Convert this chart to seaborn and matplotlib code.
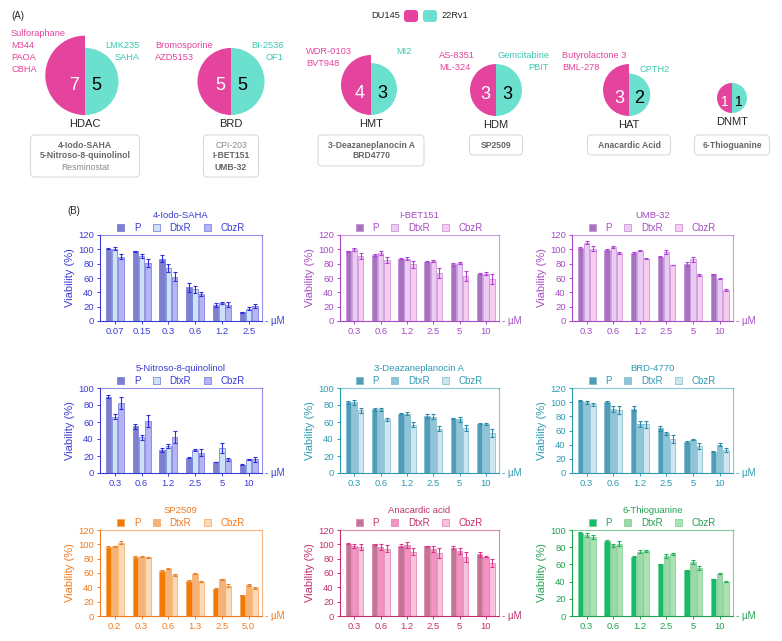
"""
Epigenetic drug screen overview (A) and viability bar charts (B).
"""

import matplotlib.pyplot as plt
import pandas as pd
import seaborn as sns
from matplotlib.patches import FancyBboxPatch, Patch, Wedge

# ----------------------------------------------------------
# Panel A data
# ----------------------------------------------------------

FAMILIES = ["HDAC", "BRD", "HMT", "HDM", "HAT", "DNMT"]

DU145_COUNTS = [7, 5, 4, 3, 3, 1]
RV1_COUNTS = [5, 5, 3, 3, 2, 1]

DU145_ONLY = [
    ["Sulforaphane", "M344", "PAOA", "CBHA"],
    ["Bromosporine", "AZD5153"],
    ["WDR-0103", "BVT948"],
    ["AS-8351", "ML-324"],
    ["Butyrolactone 3", "BML-278"],
    [],
]

RV1_ONLY = [
    ["LMK235", "SAHA"],
    ["BI-2536", "OF1"],
    ["MI2"],
    ["Gemcitabine", "PBIT"],
    ["CPTH2"],
    [],
]

SHARED = [
    ["4-Iodo-SAHA", "5-Nitroso-8-quinolinol", "Resminostat"],
    ["CPI-203", "I-BET151", "UMB-32"],
    ["3-Deazaneplanocin A", "BRD4770"],
    ["SP2509"],
    ["Anacardic Acid"],
    ["6-Thioguanine"],
]

NOT_TESTED = {"Resminostat", "CPI-203"}

# ----------------------------------------------------------
# Panel B data
# ----------------------------------------------------------

LINES = ["P", "DtxR", "CbzR"]

DOSES = ["0.3", "0.6", "1.2", "2.5", "5", "10"]
IODO_DOSES = ["0.07", "0.15", "0.3", "0.6", "1.2", "2.5"]
SP2509_DOSES = ["0.2", "0.3", "0.6", "1.3", "2.5", "5.0"]

IODO_MEAN = {"P": [101, 97, 87, 47, 22, 12],
             "DtxR": [101, 91, 74, 44, 25, 17],
             "CbzR": [90, 81, 62, 38, 23, 21]}
IODO_ERR = {"P": [1, 1, 5, 6, 3, 1],
            "DtxR": [2, 3, 5, 5, 1, 2],
            "CbzR": [3, 5, 6, 3, 3, 3]}

IBET_MEAN = {"P": [97, 92, 87, 83, 79, 66],
             "DtxR": [100, 95, 87, 84, 81, 66],
             "CbzR": [91, 85, 79, 67, 63, 58]}
IBET_ERR = {"P": [1, 1, 1, 1, 2, 1],
            "DtxR": [2, 3, 2, 1, 1, 2],
            "CbzR": [4, 4, 5, 7, 7, 7]}

UMB_MEAN = {"P": [102, 99, 95, 90, 80, 65],
            "DtxR": [109, 103, 98, 96, 86, 59],
            "CbzR": [101, 95, 87, 78, 64, 43]}
UMB_ERR = {"P": [1, 1, 1, 1, 3, 1],
           "DtxR": [2, 1, 1, 3, 3, 1],
           "CbzR": [3, 1, 1, 0.5, 1, 1]}

NITROSO_MEAN = {"P": [90, 55, 27, 18, 13, 10],
                "DtxR": [66, 42, 32, 27, 29, 16],
                "CbzR": [82, 61, 42, 24, 16, 16]}
NITROSO_ERR = {"P": [2, 3, 2, 0.5, 0.5, 0.5],
               "DtxR": [3, 3, 2, 1, 6, 1],
               "CbzR": [7, 7, 7, 4, 2, 3]}

DZNEP_MEAN = {"P": [83, 75, 70, 67, 64, 58],
              "DtxR": [83, 75, 70, 66, 63, 58],
              "CbzR": [74, 63, 57, 52, 53, 47]}
DZNEP_ERR = {"P": [2, 2, 1, 2, 1, 0.5],
             "DtxR": [3, 2, 2, 3, 3, 1],
             "CbzR": [3, 2, 3, 3, 4, 5]}

BRD_MEAN = {"P": [102, 100, 91, 63, 44, 30],
            "DtxR": [100, 90, 69, 56, 47, 40],
            "CbzR": [97, 89, 69, 48, 38, 32]}
BRD_ERR = {"P": [1, 1, 4, 3, 1, 1],
           "DtxR": [2, 4, 4, 2, 1, 2],
           "CbzR": [2, 5, 5, 5, 4, 3]}

SP_MEAN = {"P": [96, 82, 63, 49, 38, 29],
           "DtxR": [97, 83, 66, 59, 51, 43],
           "CbzR": [102, 82, 57, 48, 42, 39]}
SP_ERR = {"P": [1, 2, 1, 1, 1, 1],
          "DtxR": [1, 1, 1, 1, 1, 1],
          "CbzR": [2, 1, 1, 1, 2, 2]}

ANA_MEAN = {"P": [101, 100, 98, 97, 95, 86],
            "DtxR": [98, 96, 99, 94, 91, 83],
            "CbzR": [96, 94, 90, 88, 82, 74]}
ANA_ERR = {"P": [1, 1, 2, 1, 2, 3],
           "DtxR": [3, 4, 4, 4, 4, 1],
           "CbzR": [4, 5, 5, 7, 7, 5]}

TG_MEAN = {"P": [97, 87, 69, 60, 53, 43],
           "DtxR": [94, 82, 75, 70, 63, 49],
           "CbzR": [92, 84, 76, 72, 56, 40]}
TG_ERR = {"P": [1, 1, 0.5, 0.5, 0.5, 0.5],
          "DtxR": [2, 2, 2, 2, 2, 0.5],
          "CbzR": [2, 3, 1, 1, 2, 1]}

# ----------------------------------------------------------
# Styles
# ----------------------------------------------------------

PINK = "#E4449E"
TEAL = "#6BE0CF"

THEMES = {
    "blue": {"text": "#3B3BD6", "bars": ["#7D80CF", "#CCE3F7", "#B4B4F6"],
             "err": "#2E2EE0", "edge": "#6F73D8"},
    "purple": {"text": "#A64BC4", "bars": ["#A673BF", "#EBCBF3", "#F7CCEE"],
               "err": "#B640DC", "edge": "#C08AD6"},
    "teal": {"text": "#2E9BB3", "bars": ["#4F9DB8", "#8FC5D8", "#CDE6EF"],
             "err": "#2A8CA8", "edge": "#7DB8CC"},
    "orange": {"text": "#F27A1E", "bars": ["#F27A00", "#F7B277", "#FBDAB5"],
               "err": "#E8832E", "edge": "#F5A55A"},
    "rose": {"text": "#C2306E", "bars": ["#C27594", "#F392C3", "#F8C3DE"],
             "err": "#E0358C", "edge": "#E07AAA"},
    "green": {"text": "#22A251", "bars": ["#12BE6E", "#9FD8A8", "#A9E2B3"],
              "err": "#1DB35A", "edge": "#7ACB8E"},
}

# pixel layout of panel A
PIE_X = [85, 231, 371, 496, 629, 732]
PIE_BOTTOM = [115, 115, 115, 116, 116, 113]
PINK_XY = [(11, 33), (155, 46), (306, 52), (439, 55), (562, 55), None]
TEAL_XY = [(140, 46), (284, 46), (412, 52), (549, 55), (670, 69), None]
BOX_W = [109, 55, 106, 53, 83, 75]

# pixel boxes of panel B
COLS = [(100, 262), (340, 499), (572, 733)]
ROWS = [(235, 321), (388, 473), (530, 616)]

W, H = 782, 641


def px_axes(fig, x0, y0, x1, y1):
    return fig.add_axes([x0 / W, 1 - y1 / H, (x1 - x0) / W, (y1 - y0) / H])


# ----------------------------------------------------------
# Panel A
# ----------------------------------------------------------

def panel_a(fig):

    ax = px_axes(fig, 0, 0, W, 200)
    ax.set_xlim(0, W)
    ax.set_ylim(200, 0)
    ax.axis("off")

    ax.text(11, 16, "(A)", fontsize=7, va="center")

    # legend
    ax.text(400, 16, "DU145", fontsize=6.7, ha="right", va="center")
    for x0, c in [(404, PINK), (423, TEAL)]:
        ax.add_patch(FancyBboxPatch(
            (x0, 10), 14, 12,
            boxstyle="round,pad=0,rounding_size=3",
            facecolor=c, edgecolor="none",
        ))
    ax.text(442, 16, "22Rv1", fontsize=6.7, ha="left", va="center")

    for i, fam in enumerate(FAMILIES):

        cx = PIE_X[i]
        bottom = PIE_BOTTOM[i]
        r_du = 15 * DU145_COUNTS[i] ** 0.5
        r_rv = 15 * RV1_COUNTS[i] ** 0.5

        ax.add_patch(Wedge((cx, bottom - r_du), r_du, 90, 270,
                           facecolor=PINK, edgecolor="none"))
        ax.add_patch(Wedge((cx, bottom - r_rv), r_rv, -90, 90,
                           facecolor=TEAL, edgecolor="none"))

        r_min = min(r_du, r_rv)
        ny = bottom - r_min + 4
        dx = min(11, 0.47 * r_min)
        fs = 13 if r_min > 20 else 10
        ax.text(cx - dx, ny, str(DU145_COUNTS[i]), color="white",
                fontsize=fs, ha="center", va="center")
        ax.text(cx + dx, ny, str(RV1_COUNTS[i]), color="black",
                fontsize=fs, ha="center", va="center")

        ax.text(cx, bottom + 9, fam, fontsize=8, ha="center", va="center")

        if PINK_XY[i]:
            x0, y0 = PINK_XY[i]
            for k, name in enumerate(DU145_ONLY[i]):
                ax.text(x0, y0 + 12 * k, name, color=PINK, fontsize=6.7,
                        ha="left", va="center")
            x0, y0 = TEAL_XY[i]
            for k, name in enumerate(RV1_ONLY[i]):
                ax.text(x0, y0 + 12 * k, name, color="#3CC9B4",
                        fontsize=6.7, ha="right", va="center")

        # shared drugs box
        n = len(SHARED[i])
        bh = 9 + 11 * n
        bw = BOX_W[i]
        ax.add_patch(FancyBboxPatch(
            (cx - bw / 2, 135), bw, bh,
            boxstyle="round,pad=0,rounding_size=4",
            facecolor="white", edgecolor="#DADADA", linewidth=0.8,
        ))
        for k, name in enumerate(SHARED[i]):
            tested = name not in NOT_TESTED
            ax.text(cx, 135 + 10 + 11 * k, name,
                    fontsize=6.2,
                    color="#666666" if tested else "#8A8A8A",
                    fontweight="bold" if tested else "normal",
                    ha="center", va="center")


# ----------------------------------------------------------
# Panel B
# ----------------------------------------------------------

def bar_panel(ax, title, doses, means, errs, theme, ymax):

    t = THEMES[theme]

    rows = []
    for line in LINES:
        for d, m in zip(doses, means[line]):
            rows.append({"dose": d, "line": line, "viability": m})
    df = pd.DataFrame(rows)

    sns.barplot(
        data=df,
        x="dose",
        y="viability",
        hue="line",
        order=doses,
        hue_order=LINES,
        palette=dict(zip(LINES, t["bars"])),
        errorbar=None,
        width=0.7,
        gap=0.12,
        saturation=1,
        linewidth=0.5,
        edgecolor=t["edge"],
        legend=False,
        ax=ax,
    )

    for container, line in zip(ax.containers, LINES):
        xs = [b.get_x() + b.get_width() / 2 for b in container]
        ys = [b.get_height() for b in container]
        ax.errorbar(xs, ys, yerr=errs[line], fmt="none",
                    ecolor=t["err"], elinewidth=0.8,
                    capsize=1.6, capthick=0.8)

    ax.set_xlim(-0.55, 5.5)
    ax.set_ylim(0, ymax)
    ax.set_yticks(range(0, ymax + 1, 20))

    for side in ["left", "right", "top", "bottom"]:
        ax.spines[side].set_visible(True)
        ax.spines[side].set_color(t["text"])
        ax.spines[side].set_linewidth(0.8)
    ax.spines["right"].set_alpha(0.55)
    ax.spines["top"].set_alpha(0.55)

    ax.tick_params(axis="both", colors=t["text"], labelsize=6.8,
                   length=2.5, width=0.7, pad=2, direction="out")
    ax.tick_params(axis="both", which="both", left=True, bottom=True)

    ax.set_xlabel("")
    ax.set_ylabel("Viability (%)", color=t["text"], fontsize=8,
                  labelpad=2)

    ax.set_title(title, color=t["text"], fontsize=6.8, pad=12.5)

    handles = [Patch(facecolor=c, edgecolor=t["edge"], linewidth=0.5)
               for c in t["bars"]]
    ax.legend(
        handles,
        LINES,
        loc="lower center",
        bbox_to_anchor=(0.5, 1.0),
        ncol=3,
        frameon=False,
        fontsize=7,
        handlelength=0.7,
        handleheight=0.7,
        handletextpad=1.0,
        columnspacing=1.3,
        borderaxespad=0.1,
        borderpad=0.1,
        labelcolor=t["text"],
    )

    ax.text(1.02, 0, "- µM", transform=ax.get_yaxis_transform(),
            color=t["text"], fontsize=7, ha="left", va="center")


def panel_b(fig):

    fig.text(67 / W, 1 - 211 / H, "(B)", fontsize=7, va="center")

    charts = [
        ("4-Iodo-SAHA", IODO_DOSES, IODO_MEAN, IODO_ERR, "blue", 120),
        ("I-BET151", DOSES, IBET_MEAN, IBET_ERR, "purple", 120),
        ("UMB-32", DOSES, UMB_MEAN, UMB_ERR, "purple", 120),
        ("5-Nitroso-8-quinolinol", DOSES, NITROSO_MEAN, NITROSO_ERR,
         "blue", 100),
        ("3-Deazaneplanocin A", DOSES, DZNEP_MEAN, DZNEP_ERR, "teal", 100),
        ("BRD-4770", DOSES, BRD_MEAN, BRD_ERR, "teal", 120),
        ("SP2509", SP2509_DOSES, SP_MEAN, SP_ERR, "orange", 120),
        ("Anacardic acid", DOSES, ANA_MEAN, ANA_ERR, "rose", 120),
        ("6-Thioguanine", DOSES, TG_MEAN, TG_ERR, "green", 100),
    ]

    for k, (title, doses, means, errs, theme, ymax) in enumerate(charts):
        x0, x1 = COLS[k % 3]
        y0, y1 = ROWS[k // 3]
        ax = px_axes(fig, x0, y0, x1, y1)
        bar_panel(ax, title, doses, means, errs, theme, ymax)


def main():

    sns.set_theme(style="white")
    plt.rcParams["font.family"] = ["Liberation Sans", "DejaVu Sans"]

    fig = plt.figure(figsize=(W / 100, H / 100), dpi=100)

    panel_a(fig)
    panel_b(fig)

    fig.savefig("out.png", dpi=100)
    plt.close(fig)


if __name__ == "__main__":
    main()
